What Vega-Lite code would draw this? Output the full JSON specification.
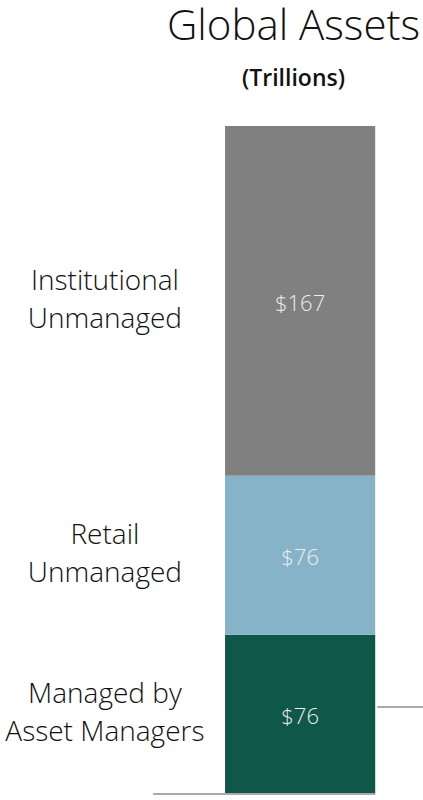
{
  "$schema": "https://vega.github.io/schema/vega-lite/v6.json",
  "width": 423,
  "height": 668,
  "autosize": "none",
  "padding": {"top": 126, "bottom": 6, "left": 0, "right": 0},
  "config": {"view": {"stroke": null}, "font": "Open Sans"},
  "title": {
    "text": "Global Assets",
    "subtitle": "(Trillions)",
    "anchor": "middle",
    "dx": 82,
    "offset": 34,
    "font": "Open Sans",
    "fontSize": 42,
    "fontWeight": 300,
    "color": "#111111",
    "subtitleFont": "Open Sans",
    "subtitleFontSize": 23,
    "subtitleFontWeight": 600,
    "subtitleColor": "#111111",
    "subtitlePadding": 19
  },
  "datasets": {
    "segments": [
      {"category": "Managed by\nAsset Managers", "value": 76, "order": 1},
      {"category": "Retail\nUnmanaged", "value": 76, "order": 2},
      {"category": "Institutional\nUnmanaged", "value": 167, "order": 3}
    ],
    "marker": [{"level": 41.6}]
  },
  "layer": [
    {
      "data": {"name": "segments"},
      "transform": [
        {"stack": "value", "groupby": [], "sort": [{"field": "order"}], "as": ["y0", "y1"]},
        {"calculate": "(datum.y0 + datum.y1) / 2", "as": "mid"}
      ],
      "layer": [
        {
          "mark": {"type": "bar"},
          "encoding": {
            "x": {"datum": 53.2, "type": "quantitative", "scale": {"domain": [0, 100], "nice": false, "zero": true}, "axis": null},
            "x2": {"datum": 88.7},
            "y": {"field": "y0", "type": "quantitative", "scale": {"domain": [0, 319], "nice": false}, "axis": null},
            "y2": {"field": "y1"},
            "color": {
              "field": "category",
              "type": "nominal",
              "scale": {
                "domain": ["Managed by\nAsset Managers", "Retail\nUnmanaged", "Institutional\nUnmanaged"],
                "range": ["#0f5748", "#87b3c9", "#808080"]
              },
              "legend": null
            }
          }
        },
        {
          "mark": {"type": "text", "fontSize": 22, "fontWeight": 300, "color": "#eeeeee", "baseline": "middle", "align": "center", "dy": 3},
          "encoding": {
            "x": {"datum": 70.95, "type": "quantitative"},
            "y": {"field": "mid", "type": "quantitative"},
            "text": {"field": "value", "type": "quantitative", "format": "$.0f"}
          }
        },
        {
          "mark": {"type": "text", "fontSize": 28, "fontWeight": 300, "color": "#111111", "baseline": "middle", "align": "center", "lineBreak": "\n", "lineHeight": 38, "dy": -19},
          "encoding": {
            "x": {"datum": 24.8, "type": "quantitative"},
            "y": {"field": "mid", "type": "quantitative"},
            "text": {"field": "category", "type": "nominal"}
          }
        }
      ]
    },
    {
      "data": {"values": [{"level": 0}]},
      "mark": {"type": "rule", "color": "#aaaaaa", "strokeWidth": 2},
      "encoding": {
        "x": {"datum": 36.2, "type": "quantitative"},
        "x2": {"datum": 88.7},
        "y": {"field": "level", "type": "quantitative"}
      }
    },
    {
      "data": {"name": "marker"},
      "mark": {"type": "rule", "color": "#aaaaaa", "strokeWidth": 2},
      "encoding": {
        "x": {"datum": 89.2, "type": "quantitative"},
        "x2": {"datum": 100},
        "y": {"field": "level", "type": "quantitative"}
      }
    }
  ]
}
